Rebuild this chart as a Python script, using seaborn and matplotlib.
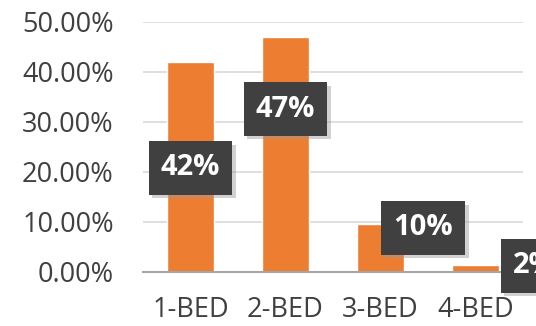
import matplotlib
matplotlib.use("Agg")
import matplotlib.pyplot as plt
import seaborn as sns
import pandas as pd
import matplotlib.patheffects as pe

categories = ["1-BED", "2-BED", "3-BED", "4-BED"]
values = [42.0, 47.0, 9.6, 1.4]
labels = ["42%", "47%", "10%", "2%"]
label_y = [20.8, 32.5, 8.8, 1.2]
label_dx = [0.0, 0.0, 0.45, 0.62]
yticks = [0, 10, 20, 30, 40, 50]

sns.set_theme(style="white")
plt.rcParams['font.family'] = ['Open Sans', 'DejaVu Sans']

df = pd.DataFrame({"cat": categories, "val": values})
fig = plt.figure(figsize=(5.36, 3.26), dpi=100)
ax = fig.add_axes([143/536, 1-272/326, 380/536, (272-21.5)/326])
sns.barplot(data=df, x="cat", y="val", color="#ED7D31", width=0.5, ax=ax, saturation=1, zorder=3)
ax.set_ylim(0, 50)
ax.set_xlim(-0.5, 3.5)
ax.set_yticks(yticks)
ax.set_yticklabels([f"{t:.2f}%" for t in yticks], fontsize=19.5, color="#404040")
ax.tick_params(axis="x", labelsize=19.5, colors="#404040", pad=17, length=0)
ax.tick_params(axis="y", length=0, pad=21, colors="#404040")
ax.yaxis.grid(True, color="#D9D9D9", linewidth=1.2, zorder=0)
ax.set_axisbelow(True)
ax.set_xlabel("")
ax.set_ylabel("")
for s in ["left", "right", "top"]:
    ax.spines[s].set_visible(False)
ax.spines["bottom"].set_color("#A6A6A6")
ax.spines["bottom"].set_linewidth(1.5)
ax.spines["bottom"].set_zorder(4)

for i, (lab, ly, dx) in enumerate(zip(labels, label_y, label_dx)):
    ax.text(i + dx, ly, lab, ha="center", va="center", fontsize=21, fontweight="bold",
            color="white", zorder=5, clip_on=False,
            bbox=dict(boxstyle="square,pad=0.42", facecolor="#404040", edgecolor="none",
                      path_effects=[pe.withSimplePatchShadow(offset=(2.5, -2.5), shadow_rgbFace="#999999", alpha=0.45)]))

fig.savefig("out.png", dpi=100)
